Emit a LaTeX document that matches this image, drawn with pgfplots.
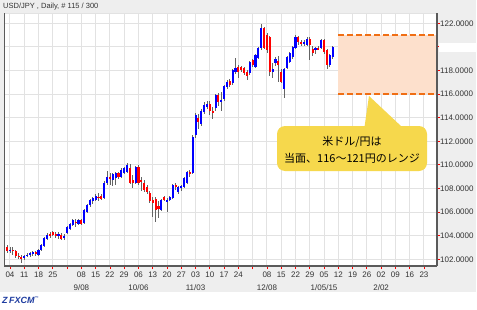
\documentclass[border=0pt]{standalone}
\usepackage{pgfplots}
\pgfplotsset{compat=1.18}
\usepackage{pgfplotstable}
\usepackage{fontspec}
\setmainfont{Liberation Sans}
\newfontfamily\cjk{Noto Sans CJK JP}
\definecolor{bgGray}{RGB}{238,238,238}
\definecolor{gridGray}{RGB}{226,226,226}
\definecolor{axGray}{RGB}{90,90,90}
\definecolor{wickGray}{RGB}{100,100,100}
\definecolor{upBlue}{RGB}{0,0,255}
\definecolor{downRed}{RGB}{255,0,0}
\definecolor{peach}{RGB}{253,224,204}
\definecolor{dashOrange}{RGB}{240,110,20}
\definecolor{calloutYellow}{RGB}{246,216,76}
\definecolor{logoBlue}{RGB}{30,60,160}

\pgfplotstableread{
d o h l c
0 102.7 103.0 102.5 102.8
5 102.1 102.4 101.9 102.3
6 102.3 102.5 102.2 102.4
7 102.4 102.6 102.2 102.5
8 102.5 102.7 102.3 102.6
10 102.4 102.9 102.3 102.8
11 102.8 103.3 102.7 103.2
12 103.1 103.9 103.0 103.8
13 103.7 104.2 103.6 104.1
17 104.0 104.3 103.7 104.1
19 103.8 104.1 103.6 104.0
20 104.2 104.8 104.1 104.7
21 104.6 105.1 104.5 105.0
22 104.9 105.4 104.8 105.3
24 105.0 105.4 104.9 105.3
26 105.1 106.3 105.0 106.2
27 106.0 106.7 105.9 106.6
28 106.6 107.1 106.4 107.0
29 106.9 107.3 106.7 107.2
30 107.0 107.5 106.9 107.4
33 107.2 108.6 107.1 108.5
34 108.5 109.5 108.3 109.0
36 108.7 109.3 108.2 109.2
37 108.9 109.4 108.3 109.3
39 109.0 109.7 108.9 109.6
40 109.3 109.8 109.2 109.7
41 109.4 110.2 109.3 110.0
44 108.5 109.9 108.4 109.8
53 106.2 107.1 106.1 107.0
55 106.9 107.2 106.0 107.0
56 107.0 107.4 106.9 107.3
57 107.2 108.4 107.1 108.3
59 107.7 108.2 107.5 108.1
60 108.0 108.3 107.8 108.2
61 108.1 109.0 108.0 108.9
62 108.5 109.5 108.4 109.4
64 109.3 112.5 109.2 112.4
65 112.5 114.4 112.3 114.2
67 113.5 114.7 113.3 114.6
68 114.5 115.3 114.3 115.1
69 114.9 115.4 114.7 115.2
72 114.8 116.0 114.6 115.9
74 115.3 116.2 114.6 115.5
75 115.6 116.8 115.4 116.7
76 116.6 117.2 116.4 117.0
78 116.9 118.1 116.8 118.0
79 117.9 119.1 117.7 118.2
84 117.8 118.8 117.6 118.7
86 118.3 119.4 118.2 119.3
87 119.1 120.0 119.0 119.9
88 119.9 121.9 119.7 121.6
92 117.9 118.6 117.4 118.1
93 118.6 119.1 118.4 119.0
96 116.4 118.2 115.7 118.1
97 118.2 119.2 118.1 119.1
98 118.7 119.6 118.6 119.5
99 119.1 120.1 119.0 120.0
100 119.9 121.0 119.8 120.8
103 120.3 120.6 120.1 120.4
104 120.2 120.8 120.1 120.7
107 119.7 120.0 119.4 119.9
109 119.9 120.7 119.8 120.6
112 118.5 119.4 118.3 119.3
113 119.1 120.1 119.0 120.0
}\upTable

\pgfplotstableread{
d o h l c
-1 103.0 103.2 102.5 102.7
1 102.8 103.0 102.4 102.7
2 102.7 102.8 102.1 102.3
3 102.3 102.5 102.0 102.2
4 102.2 102.4 101.7 102.1
9 102.6 102.7 102.3 102.5
14 104.1 104.3 103.8 104.0
15 104.3 104.4 104.0 104.1
16 104.1 104.3 103.8 104.0
18 104.1 104.2 103.6 103.7
23 105.2 105.4 104.7 105.1
25 105.3 105.4 104.9 105.0
31 107.3 107.6 106.9 107.2
32 107.4 107.5 107.0 107.1
35 109.0 109.3 108.3 108.8
38 109.3 109.4 108.8 109.0
42 109.7 110.1 108.4 108.5
43 108.7 109.1 108.0 108.5
45 109.8 110.0 108.3 108.5
46 108.7 109.0 107.8 108.6
47 108.5 108.7 107.7 107.9
48 108.1 108.3 107.5 107.7
49 107.6 107.8 106.8 106.9
50 107.0 107.3 105.6 106.8
51 107.1 107.3 105.2 106.2
52 106.5 106.9 105.5 106.3
54 107.3 107.4 106.9 107.0
58 108.3 108.5 107.9 108.1
63 109.4 109.6 109.0 109.3
66 114.0 114.3 113.0 113.6
70 115.2 115.4 114.2 114.6
71 114.6 114.9 113.9 114.4
73 115.9 116.1 115.0 115.3
77 117.1 117.3 116.6 116.8
80 118.3 118.5 117.4 117.9
81 118.3 118.4 117.9 118.0
82 118.2 118.3 117.6 117.8
83 117.9 118.0 117.2 117.5
85 118.9 119.0 118.3 118.5
89 121.6 121.7 119.8 119.9
90 121.0 121.2 119.5 119.7
91 120.8 120.9 117.5 117.9
94 118.8 119.2 117.0 118.5
95 117.9 118.1 116.9 117.0
101 120.8 120.9 120.2 120.4
102 120.4 120.6 120.1 120.3
105 120.7 120.8 118.9 120.2
106 119.8 120.1 119.2 119.5
108 119.9 120.1 119.7 119.8
110 120.6 120.7 119.4 119.6
111 119.7 119.8 118.1 118.5
}\downTable

\begin{document}
\begin{tikzpicture}[x=1pt,y=1pt]
\fill[white] (0,0) rectangle (477,309);
\fill[bgGray] (0,17) rectangle (476,309);
\begin{axis}[
  name=ax,
  at={(4pt,43pt)}, anchor=south west,
  scale only axis, width=433pt, height=253pt,
  xmin=-2.1, xmax=149.56, ymin=101.43, ymax=122.87,
  xtick={0,5,...,145},
  xticklabels={04,11,18,25,{},{08\\9/08},15,22,29,{06\\10/06},13,20,27,{03\\11/03},10,17,24,{},{08\\12/08},15,22,29,{05\\1/05/15},12,19,26,{02\\2/02},09,16,23},
  ytick={102,104,...,122},
  yticklabels={102.0000,104.0000,106.0000,108.0000,110.0000,112.0000,114.0000,116.0000,118.0000,{},122.0000},
  xtick pos=bottom, ytick pos=right, yticklabel pos=right,
  tick align=outside, major tick length=3pt,
  major tick style={draw=downRed, line width=0.8pt},
  grid=major, major grid style={draw=gridGray, line width=1pt},
  axis line style={draw=none},
  axis background/.style={fill=white},
  ticklabel style={text=black!80},
  xticklabel style={align=center, font=\fontsize{8}{13}\selectfont, yshift=1pt},
  yticklabel style={font=\fontsize{8}{9}\selectfont, inner sep=0.5pt, xshift=-0.5pt},
  candle/.style={draw=none, no markers, error bars/.cd, y dir=both, y explicit, error mark=none},
]
% range band
\addplot[fill=peach, draw=none] coordinates {(114.9,116) (149.56,116) (149.56,121) (114.9,121)} -- cycle;
\addplot[dashOrange, line width=2pt, dash pattern=on 6pt off 3pt] coordinates {(114.9,121) (149.56,121)};
\addplot[dashOrange, line width=2pt, dash pattern=on 6pt off 3pt] coordinates {(114.9,116) (149.56,116)};
% wicks
\addplot[candle, error bar style={draw=wickGray, line width=0.8pt, solid}]
  table[x=d, y expr={(\thisrow{h}+\thisrow{l})/2}, y error expr={(\thisrow{h}-\thisrow{l})/2}] {\upTable};
\addplot[candle, error bar style={draw=wickGray, line width=0.8pt, solid}]
  table[x=d, y expr={(\thisrow{h}+\thisrow{l})/2}, y error expr={(\thisrow{h}-\thisrow{l})/2}] {\downTable};
% bodies
\addplot[candle, error bar style={draw=upBlue, line width=2.1pt, solid}]
  table[x=d, y expr={(\thisrow{o}+\thisrow{c})/2}, y error expr={max(abs(\thisrow{c}-\thisrow{o})/2,0.05)}] {\upTable};
\addplot[candle, error bar style={draw=downRed, line width=2.1pt, solid}]
  table[x=d, y expr={(\thisrow{o}+\thisrow{c})/2}, y error expr={max(abs(\thisrow{c}-\thisrow{o})/2,0.05)}] {\downTable};
\end{axis}
% frame
\draw[gridGray, line width=0.8pt] (ax.north west) -- (ax.north east);
\draw[axGray, line width=1pt] (ax.south west) -- (ax.north west);
\draw[axGray, line width=1.2pt] (ax.south east) -- (ax.north east);
\draw[axGray, line width=1.8pt] (ax.south west) -- (ax.south east);
% white box over 120 label
\fill[white] (439,257) rectangle (476,266);
% header
\node[anchor=west, inner sep=0pt, font=\fontsize{7.5}{9}\selectfont, text=black!80] at (3,302.5) {USD/JPY , Daily, \# 115 / 300};
% callout
\fill[calloutYellow, rounded corners=8pt] (277,138) rectangle (427,183);
\fill[calloutYellow] (364.5,182) -- (369,213) -- (402,182) -- cycle;
\node[align=center, inner sep=0pt, font=\cjk\fontsize{11}{16.6}\selectfont] at (352,159) {米ドル/円は\\当面、116～121円のレンジ};
% logo
\node[anchor=west, inner sep=0pt, text=logoBlue, font=\fontsize{9}{10}\selectfont\bfseries\itshape] at (2,9) {Z\,FXCM\textsuperscript{\fontsize{4}{4}\selectfont ™}};
\pgfresetboundingbox
\path[use as bounding box] (0,0) rectangle (477,309);
\end{tikzpicture}
\end{document}
